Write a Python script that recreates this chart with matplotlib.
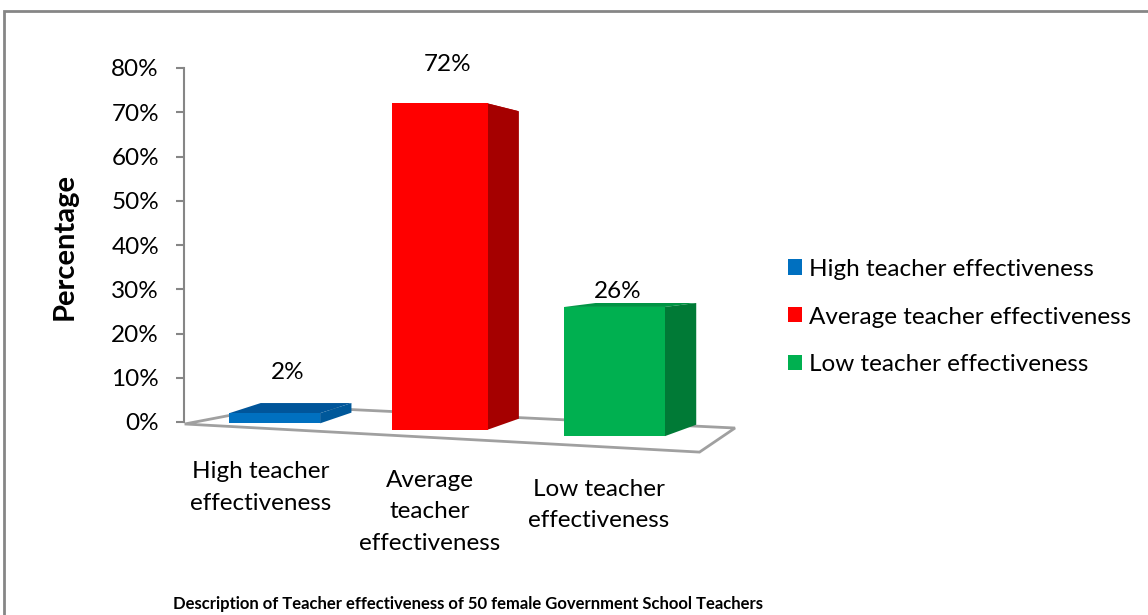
import matplotlib

matplotlib.use("Agg")
import matplotlib.pyplot as plt
from matplotlib.patches import Polygon, Rectangle

# chart data
categories = ["High teacher\neffectiveness", "Average\nteacher\neffectiveness", "Low teacher\neffectiveness"]
series_names = ["High teacher effectiveness", "Average teacher effectiveness", "Low teacher effectiveness"]
values = [2, 72, 26]
value_labels = ["2%", "72%", "26%"]
yticks = [0, 10, 20, 30, 40, 50, 60, 70, 80]
ytick_labels = ["0%", "10%", "20%", "30%", "40%", "50%", "60%", "70%", "80%"]

front_colors = ["#0070C0", "#FF0000", "#00B050"]
side_colors = ["#00589A", "#A50000", "#007A36"]
top_colors = ["#00559A", "#C00000", "#009444"]

FONT = "Lato"
GRAY = "#868686"
FS = 17.5

fig = plt.figure(figsize=(11.48, 6.15), dpi=100)
fig.patches.append(Rectangle((4 / 1148, -0.05), 1.1, (615 - 11) / 615 + 0.05,
                             transform=fig.transFigure, fill=False,
                             edgecolor=GRAY, linewidth=2))

ax = fig.add_axes([184 / 1148, (615 - 422) / 615, 551 / 1148, 354 / 615])
ax.set_xlim(-0.55, 2.79)
ax.set_ylim(0, 80)

# fake 3-D: depth offset, slight perspective and sloping floor
dx = 0.19


def dy(y):
    return 2.4 - 0.058 * y


def base(i):
    return -0.3 - 1.45 * i


floor = Polygon([(-0.546, -0.45), (2.575, -6.8), (2.79, -1.36), (0.024, 3.6)],
                closed=True, facecolor="white", edgecolor="#A0A0A0",
                linewidth=2, clip_on=False, zorder=1)
ax.add_patch(floor)

xpos = [i + 0.03 * i * (i - 1) for i in range(len(values))]
widths = [0.55 + 0.03 * i for i in range(len(values))]
for i, v in enumerate(values):
    b = base(i)
    xl, xr = xpos[i] - widths[i] / 2, xpos[i] + widths[i] / 2
    top = Polygon([(xl, v), (xr, v), (xr + dx, v + dy(v)), (xl + dx, v + dy(v))],
                  closed=True, facecolor=top_colors[i], edgecolor="none",
                  clip_on=False, zorder=2)
    side = Polygon([(xr, b), (xr + dx, b + dy(b)), (xr + dx, v + dy(v)), (xr, v)],
                   closed=True, facecolor=side_colors[i], edgecolor="none",
                   clip_on=False, zorder=2)
    ax.add_patch(top)
    ax.add_patch(side)
bars = ax.bar(xpos, [v - base(i) for i, v in enumerate(values)],
              bottom=[base(i) for i in range(len(values))], width=widths,
              color=front_colors, zorder=3, clip_on=False)

label_offsets = [29, 28, 11]
for i, v in enumerate(values):
    ax.annotate(value_labels[i], xy=(xpos[i] + 0.08 - 0.03 * i, v),
                xytext=(0, label_offsets[i]), textcoords="offset points",
                ha="center", va="center", fontsize=FS, family=FONT, color="#000000")

for i, c in enumerate(categories):
    ax.text(1.025 * i - 0.085, -8.9 - 2.0 * i, c, ha="center", va="top", fontsize=FS,
            family=FONT, linespacing=1.6)

for s in ["top", "right", "bottom"]:
    ax.spines[s].set_visible(False)
ax.spines["left"].set_color(GRAY)
ax.spines["left"].set_linewidth(1.5)
ax.set_xticks([])
ax.set_yticks(yticks)
ax.set_yticklabels(ytick_labels, fontsize=FS, family=FONT)
ax.tick_params(axis="y", length=6, width=1.5, color=GRAY, pad=12)

fig.text(65 / 1148, (615 - 247) / 615, "Percentage", rotation=90, ha="center",
         va="center", fontsize=21, fontweight="bold", family=FONT)

# legend
handles = [Rectangle((0, 0), 1, 1, facecolor=c) for c in front_colors]
fig.legend(handles, series_names, loc="center left",
           bbox_to_anchor=(788 / 1148, (615 - 317) / 615), frameon=False,
           borderaxespad=0, borderpad=0,
           prop={"family": FONT, "size": FS}, handlelength=0.58, handleheight=0.58,
           handletextpad=0.3, labelspacing=1.11)

fig.text(468 / 1148, (615 - 604) / 615,
         "Description of Teacher effectiveness of 50 female Government School Teachers",
         ha="center", va="center", fontsize=12, fontweight="bold", family=FONT)

fig.savefig("out.png", dpi=100)
